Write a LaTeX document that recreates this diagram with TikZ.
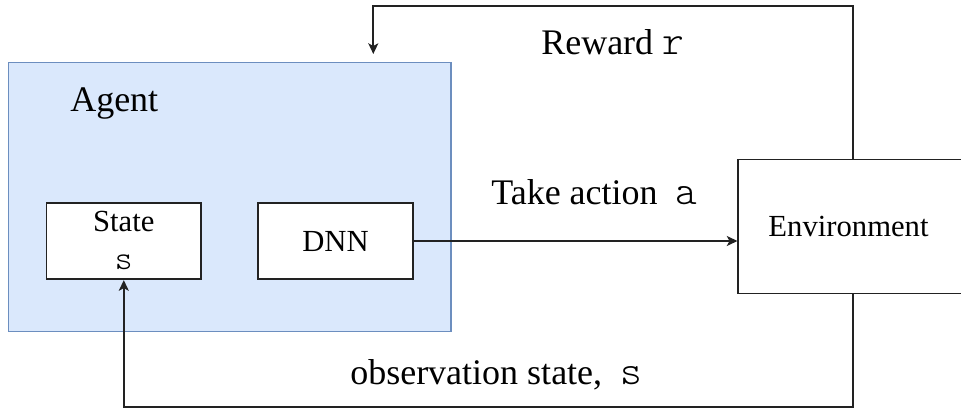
\documentclass[tikz,border=0pt]{standalone}
\usepackage{fontspec}
\setmainfont{Liberation Serif}
\setmonofont[Scale=1.15]{Latin Modern Mono Light}
\usetikzlibrary{arrows.meta}
\definecolor{agentfill}{HTML}{DAE8FC}
\definecolor{agentline}{HTML}{6C8EBF}
\definecolor{inkline}{HTML}{222222}
\begin{document}
\begin{tikzpicture}[x=0.75pt,y=-0.75pt,
  boxtext/.style={font=\fontsize{23}{27}\selectfont},
  labeltext/.style={font=\fontsize{27}{32}\selectfont, inner sep=0pt, anchor=base},
  block/.style={draw=inkline, line width=1.25pt, fill=white, inner sep=0pt},
  flow/.style={draw=inkline, line width=1.25pt, -{Stealth[length=8pt,width=7.5pt,inset=2pt]}}]
  \useasboundingbox (0,0) rectangle (961,409);
  \clip (0,0) rectangle (961,409);

  % agent container
  \path[fill=agentfill, draw=agentline, line width=0.9pt] (8.3,62.7) rectangle (451,331.7);
  \node[labeltext, anchor=base west] (agentlbl) at (70,112) {Agent};

  % inner blocks
  \node[block, minimum width=154.3*0.75pt, minimum height=76.6*0.75pt] (state) at (123.8,241) {};
  \node[boxtext, inner sep=0pt, anchor=base] (statetxt) at (123.8,231.7) {State};
  \node[inner sep=0pt, anchor=base, font=\fontsize{22}{27}\ttfamily] (statevar) at (123.8,269.5) {s};
  \node[block, boxtext, minimum width=154.4*0.75pt, minimum height=76.6*0.75pt] (dnn) at (335.5,241) {DNN};

  % environment block (runs past the right edge)
  \node[block, minimum width=224*0.75pt, minimum height=134*0.75pt] (env) at (850.3,226.6) {};
  \node[boxtext, inner sep=0pt, anchor=base] (envtxt) at (848.5,237) {Environment};

  % action
  \draw[flow] (dnn.east) -- (env.west |- dnn.east);
  \node[labeltext, anchor=base west] (actlbl) at (491,205) {Take action\ \ \texttt{a}};

  % reward loop
  \coordinate (rtop) at (853.3,6);
  \coordinate (rtip) at (373.3,54);
  \draw[flow] (env.north -| rtop) -- (rtop) -- (rtip |- rtop) -- (rtip);
  \node[labeltext, anchor=base west] (rewlbl) at (541,55) {Reward \texttt{r}};

  % observation loop
  \coordinate (obot) at (853.3,407);
  \draw[flow] (env.south -| obot) -- (obot) -| (state.south);
  \node[labeltext, anchor=base west] (obslbl) at (350,385) {observation state,\ \ \texttt{s}};
\end{tikzpicture}
\end{document}
